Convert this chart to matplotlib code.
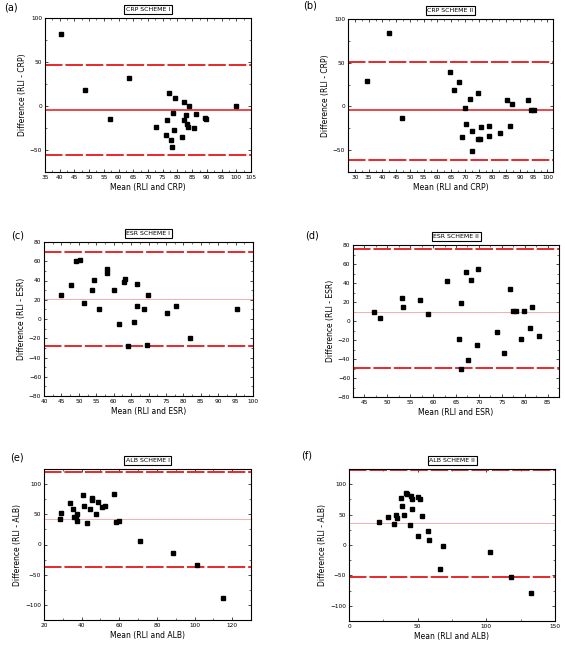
import numpy as np
import matplotlib.pyplot as plt
from matplotlib.ticker import MultipleLocator, AutoMinorLocator

# (a) CRP scheme I
crp1_mean = [40.6, 48.5, 57.0, 63.5, 72.6, 76.1, 76.4, 77.2, 77.9, 78.2, 78.6, 78.9, 79.2,
             81.4, 82.1, 82.3, 82.8, 83.3, 83.6, 83.8, 85.5, 86.3, 89.5, 89.8, 99.9]
crp1_diff = [82.3, 18.0, -15.0, 32.3, -23.5, -32.7, -16.0, 15.0, -39.0, -46.3, -7.7, -27.0, 9.6,
             -35.0, 4.2, -16.0, -10.4, -21.0, -24.0, 0.0, -24.6, -9.3, -13.9, -15.0, 0.0]
crp1_lines = [-4.6, 46.5, -55.8]

# (b) CRP scheme II
crp2_mean = [34.5, 42.4, 47.1, 64.7, 65.9, 68.0, 68.8, 69.9, 70.3, 71.8, 72.6, 72.6, 74.7,
             74.8, 75.6, 76.0, 78.9, 78.9, 82.7, 85.2, 86.4, 87.1, 92.8, 94.1, 95.1]
crp2_diff = [29.0, 84.0, -12.8, 39.0, 18.4, 27.8, -35.0, -1.5, -20.0, 9.0, -27.8, -51.0, 15.0,
             -37.0, -37.0, -23.0, -22.0, -34.0, -30.5, 7.0, -22.0, 2.3, 7.0, -4.5, -4.5]
crp2_lines = [-3.8, 51.0, -61.0]

# (c) ESR scheme I
esr1_mean = [45.0, 47.8, 49.3, 50.4, 51.4, 53.8, 54.4, 55.8, 58.0, 58.0, 60.1, 61.4, 63.0,
             63.3, 64.2, 65.7, 66.6, 66.7, 68.7, 69.6, 69.8, 75.3, 78.0, 82.0, 95.4]
esr1_diff = [25.3, 35.4, 60.7, 61.7, 17.0, 29.8, 40.6, 10.4, 52.0, 48.2, 29.8, -5.5, 38.5,
             41.6, -28.0, -3.5, 36.4, 13.9, 10.4, -26.7, 25.3, 6.2, 13.9, -19.4, 10.4]
esr1_lines = [21.0, 70.0, -28.4]

# (d) ESR scheme II
esr2_mean = [47.1, 48.5, 53.2, 53.4, 57.2, 58.9, 63.1, 65.6, 66.2, 66.0, 67.2, 67.6, 68.2,
             69.5, 69.9, 73.9, 75.5, 76.8, 77.5, 78.0, 79.1, 79.9, 81.1, 81.7, 83.2]
esr2_diff = [9.1, 2.8, 24.2, 15.1, 22.1, 7.0, 42.5, -18.6, 19.0, -50.5, 51.2, -41.4, 42.8,
             -25.6, 54.4, -11.6, -33.3, 33.7, 10.2, 10.2, -18.6, 10.2, -7.4, 14.4, -15.8]
esr2_lines = [10.0, 76.0, -49.5]

# (e) ALB scheme I
alb1_mean = [28.5, 29.2, 33.9, 35.2, 35.9, 36.8, 37.3, 37.8, 40.6, 41.2, 42.8, 44.5, 45.4,
             45.6, 47.7, 48.8, 50.9, 52.3, 57.4, 58.4, 59.7, 71.1, 88.4, 101.1, 115.2]
alb1_diff = [43.0, 52.9, 68.2, 59.4, 45.8, 45.8, 39.3, 51.3, 81.8, 63.2, 36.0, 59.4, 76.9,
             73.0, 51.3, 69.8, 61.6, 63.8, 84.0, 37.6, 38.7, 6.0, -14.7, -34.4, -88.9]
alb1_lines = [42.0, 120.7, -37.0]

# (f) ALB scheme II
alb2_mean = [21.6, 28.2, 32.8, 34.5, 35.2, 37.9, 38.6, 40.0, 41.3, 42.0, 44.7, 45.4, 46.1,
             46.1, 50.2, 50.5, 51.5, 52.9, 57.5, 58.3, 68.2, 66.3, 102.4, 118.2, 132.3]
alb2_diff = [37.9, 46.2, 34.6, 48.9, 44.5, 76.9, 63.7, 50.0, 85.2, 84.6, 33.0, 80.8, 75.8,
             59.9, 14.3, 79.1, 75.3, 47.8, 22.5, 8.8, -1.6, -39.6, -11.5, -52.2, -78.6]
alb2_lines = [36.8, 124.0, -52.0]

W, H = 565, 654
fig = plt.figure(figsize=(W / 100, H / 100), dpi=100)
plt.rcParams['font.family'] = 'DejaVu Sans'


def box(l, r, t, b):
    return [l / W, 1 - b / H, (r - l) / W, (b - t) / H]


# label, title, name, x, y, lines, axes box, xlim, xstep, ylim, ystep, solid mean, label pos (px)
panels = [
    ('(a)', 'CRP SCHEME I', 'CRP', crp1_mean, crp1_diff, crp1_lines, box(45, 251, 18, 172),
     (35, 105), 5, (-75, 100), 50, True, (11, 7)),
    ('(b)', 'CRP SCHEME II', 'CRP', crp2_mean, crp2_diff, crp2_lines, box(348, 553, 19, 172),
     (27.5, 102), 5, (-75, 100), 50, True, (310, 6)),
    ('(c)', 'ESR SCHEME I', 'ESR', esr1_mean, esr1_diff, esr1_lines, box(44, 253, 242, 396),
     (40, 100), 5, (-80, 80), 20, False, (18, 236)),
    ('(d)', 'ESR SCHEME II', 'ESR', esr2_mean, esr2_diff, esr2_lines, box(353, 559, 245, 397),
     (42.5, 87.5), 5, (-80, 80), 20, False, (312, 235)),
    ('(e)', 'ALB SCHEME I', 'ALB', alb1_mean, alb1_diff, alb1_lines, box(44, 251, 469, 620),
     (20, 130), 20, (-125, 125), 50, False, (17, 457)),
    ('(f)', 'ALB SCHEME II', 'ALB', alb2_mean, alb2_diff, alb2_lines, box(349, 555, 469, 621),
     (0, 150), 50, (-125, 125), 50, False, (307, 455)),
]

for lab, title, name, xm, yd, lines, pos, xlim, xstep, ylim, ystep, solid_mean, lp in panels:
    ax = fig.add_axes(pos)
    mean, upper, lower = lines
    if solid_mean:
        ax.axhline(mean, color='#e8282b', lw=1.2)
    else:
        ax.axhline(mean, color='#f2a0a0', lw=0.6)
    for v in (upper, lower):
        ax.axhline(v, color='#e8282b', lw=1.4, dashes=(9, 1.5))
    ax.plot(xm, yd, 's', color='black', ms=3.2, ls='none')
    ax.set_xlim(*xlim)
    ax.set_ylim(*ylim)
    ax.xaxis.set_major_locator(MultipleLocator(xstep))
    ax.yaxis.set_major_locator(MultipleLocator(ystep))
    ax.xaxis.set_minor_locator(AutoMinorLocator(2))
    ax.yaxis.set_minor_locator(AutoMinorLocator(2))
    ax.tick_params(which='both', direction='in', top=True, right=True, labelsize=4.2, pad=2)
    ax.tick_params(which='major', length=2.5, width=0.5)
    ax.tick_params(which='minor', length=1.5, width=0.4)
    for s in ax.spines.values():
        s.set_linewidth(0.8)
    ax.set_xlabel(f'Mean (RLI and {name})', fontsize=5.5, labelpad=2)
    ax.set_ylabel(f'Difference (RLI - {name})', fontsize=5.5, labelpad=2)
    ax.set_title(title, fontsize=4.5, pad=5,
                 bbox=dict(boxstyle='square,pad=0.25', fc='white', ec='black', lw=0.8))
    fig.text(lp[0] / W, 1 - lp[1] / H, lab, fontsize=7, ha='center', va='center')

fig.savefig('out.png', dpi=100)
